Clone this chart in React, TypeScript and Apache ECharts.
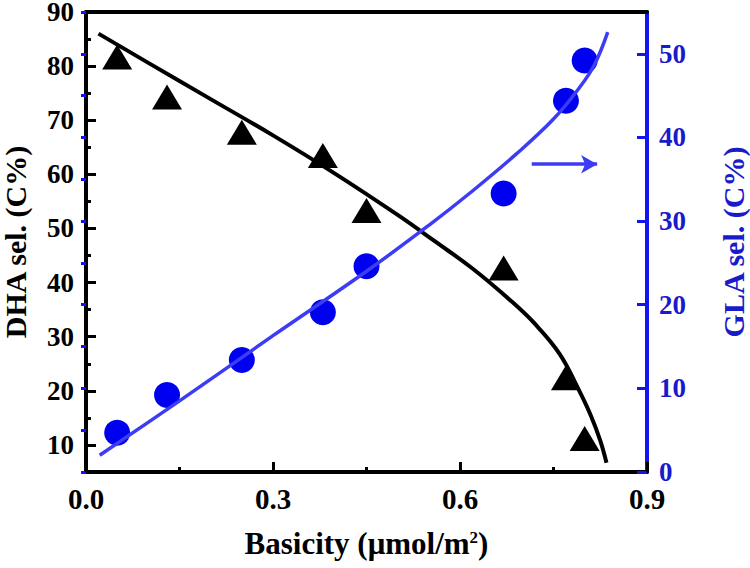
import React, { useEffect, useRef } from "react";
import * as echarts from "echarts";

// Measured points
const basicity = [0.05, 0.13, 0.25, 0.38, 0.45, 0.67, 0.77, 0.8];
const dhaSel = [81.7, 74.3, 67.8, 63.5, 53.3, 42.7, 22.4, 11.2];
const glaSel = [4.7, 9.2, 13.4, 19.1, 24.6, 33.3, 44.4, 49.2];

// Fitted curves
const dhaFitX = [0.02, 0.1, 0.2, 0.3, 0.4, 0.5, 0.56, 0.62, 0.68, 0.72, 0.76, 0.79, 0.81, 0.825, 0.835];
const dhaFitY = [86.0, 80.6, 73.9, 67.2, 60.1, 52.5, 47.6, 42.6, 36.8, 32.4, 26.8, 20.3, 15.4, 10.8, 6.7];
const glaFitX = [0.022, 0.15, 0.3, 0.45, 0.55, 0.62, 0.69, 0.75, 0.79, 0.815, 0.837];
const glaFitY = [2.0, 8.5, 16.3, 24.0, 29.5, 33.6, 38.0, 42.2, 45.8, 48.6, 52.6];

// Arrow pointing to the right axis
const arrowX = [0.715, 0.82];
const arrowY = 36.8;

const FONT = "Liberation Serif";
const BLUE_TEXT = "#1a1acd";
const BLUE_AXIS = "#1414f0";
const BLUE_MARK = "#0000f0";
const BLUE_LINE = "#3c3cf5";

export default function App() {
  const ref = useRef<HTMLDivElement>(null);

  useEffect(() => {
    if (!ref.current) return;
    const chart = echarts.init(ref.current, undefined, { renderer: "svg" });
    const yLabelBase = {
      fontFamily: FONT,
      fontWeight: "bold" as const,
      fontSize: 27,
      lineHeight: 24,
    };
    const nameBase = {
      fontFamily: FONT,
      fontWeight: "bold" as const,
      fontSize: 30,
      lineHeight: 28,
    };
    const option: any = {
      animation: false,
      backgroundColor: "#fff",
      grid: { left: 86, right: 103, top: 12, bottom: 96, outerBoundsMode: "none", containLabel: false },
      xAxis: [
        {
          type: "value",
          min: 0,
          max: 0.9,
          interval: 0.3,
          position: "bottom",
          axisLine: { show: true, onZero: false, lineStyle: { color: "#000", width: 4 } },
          axisTick: { show: true, inside: true, length: 10, lineStyle: { color: "#000", width: 3 } },
          minorTick: { show: true, splitNumber: 2, length: 5, lineStyle: { color: "#000", width: 3 } },
          splitLine: { show: false },
          minorSplitLine: { show: false },
          axisLabel: {
            fontFamily: FONT,
            fontWeight: "bold",
            fontSize: 29,
            color: "#000",
            margin: 12,
            formatter: (v: number) => v.toFixed(1),
          },
          name: "Basicity (μmol/m{sup|2})",
          nameLocation: "middle",
          nameGap: 57,
          nameTextStyle: {
            ...nameBase,
            fontSize: 31,
            color: "#000",
            rich: {
              sup: {
                fontFamily: FONT,
                fontWeight: "bold",
                fontSize: 17,
                color: "#000",
                verticalAlign: "top",
                lineHeight: 17,
              },
            },
          },
        },
        {
          type: "value",
          min: 0,
          max: 0.9,
          position: "top",
          axisLine: { show: true, onZero: false, lineStyle: { color: "#000", width: 4 } },
          axisTick: { show: false },
          axisLabel: { show: false },
          splitLine: { show: false },
        },
      ],
      yAxis: [
        {
          type: "value",
          min: 5,
          max: 90,
          splitNumber: 8,
          position: "left",
          axisLine: { show: true, onZero: false, lineStyle: { color: "#000", width: 4 } },
          axisTick: { show: true, inside: true, length: 10, lineStyle: { color: "#000", width: 3 } },
          splitLine: { show: false },
          axisLabel: { ...yLabelBase, color: "#000", margin: 12, showMinLabel: false },
          name: "DHA sel. (C%)",
          nameLocation: "middle",
          nameRotate: 90,
          nameGap: 57,
          nameTextStyle: { ...nameBase, color: "#000" },
        },
        {
          type: "value",
          min: 5,
          max: 90,
          interval: 5,
          position: "left",
          axisLine: { show: false },
          axisTick: { show: true, inside: true, length: 5, lineStyle: { color: "#000", width: 3 } },
          splitLine: { show: false },
          axisLabel: { show: false },
        },
        {
          type: "value",
          min: 0,
          max: 55,
          interval: 10,
          position: "right",
          axisLine: { show: true, onZero: false, lineStyle: { color: BLUE_AXIS, width: 4 } },
          axisTick: { show: true, inside: true, length: 10, lineStyle: { color: BLUE_AXIS, width: 3 } },
          splitLine: { show: false },
          axisLabel: { ...yLabelBase, color: BLUE_TEXT, margin: 12, showMaxLabel: false },
          name: "GLA sel. (C%)",
          nameLocation: "middle",
          nameRotate: 90,
          nameGap: 72,
          nameTextStyle: { ...nameBase, color: BLUE_TEXT },
        },
        {
          type: "value",
          min: 0,
          max: 55,
          interval: 5,
          position: "right",
          axisLine: { show: false },
          axisTick: { show: true, inside: true, length: 5, lineStyle: { color: BLUE_AXIS, width: 3 } },
          splitLine: { show: false },
          axisLabel: { show: false },
        },
      ],
      series: [
        {
          type: "scatter",
          xAxisIndex: 0,
          yAxisIndex: 0,
          symbol: "triangle",
          symbolSize: [30, 25],
          itemStyle: { color: "#000", opacity: 1 },
          data: basicity.map((x, i) => [x, dhaSel[i]]),
          z: 2,
        },
        {
          type: "scatter",
          xAxisIndex: 0,
          yAxisIndex: 2,
          symbol: "circle",
          symbolSize: 26,
          itemStyle: { color: BLUE_MARK, opacity: 1 },
          data: basicity.map((x, i) => [x, glaSel[i]]),
          z: 2,
          markLine: {
            silent: true,
            symbol: ["none", "arrow"],
            symbolSize: [14, 16],
            label: { show: false },
            lineStyle: { color: BLUE_LINE, width: 3.5, type: "solid", opacity: 1 },
            data: [
              [
                { coord: [arrowX[0], arrowY] },
                { coord: [arrowX[1], arrowY] },
              ],
            ],
          },
        },
        {
          type: "line",
          xAxisIndex: 0,
          yAxisIndex: 0,
          smooth: 0.4,
          showSymbol: false,
          symbol: "none",
          lineStyle: { color: "#000", width: 4 },
          data: dhaFitX.map((x, i) => [x, dhaFitY[i]]),
          z: 3,
        },
        {
          type: "line",
          xAxisIndex: 0,
          yAxisIndex: 2,
          smooth: 0.4,
          showSymbol: false,
          symbol: "none",
          lineStyle: { color: BLUE_LINE, width: 3.5 },
          data: glaFitX.map((x, i) => [x, glaFitY[i]]),
          z: 3,
        },
      ],
    };
    chart.setOption(option);
    return () => chart.dispose();
  }, []);

  return (
    <div
      ref={ref}
      style={{ position: "fixed", left: 0, top: 0, width: 750, height: 568, background: "#fff" }}
    />
  );
}
